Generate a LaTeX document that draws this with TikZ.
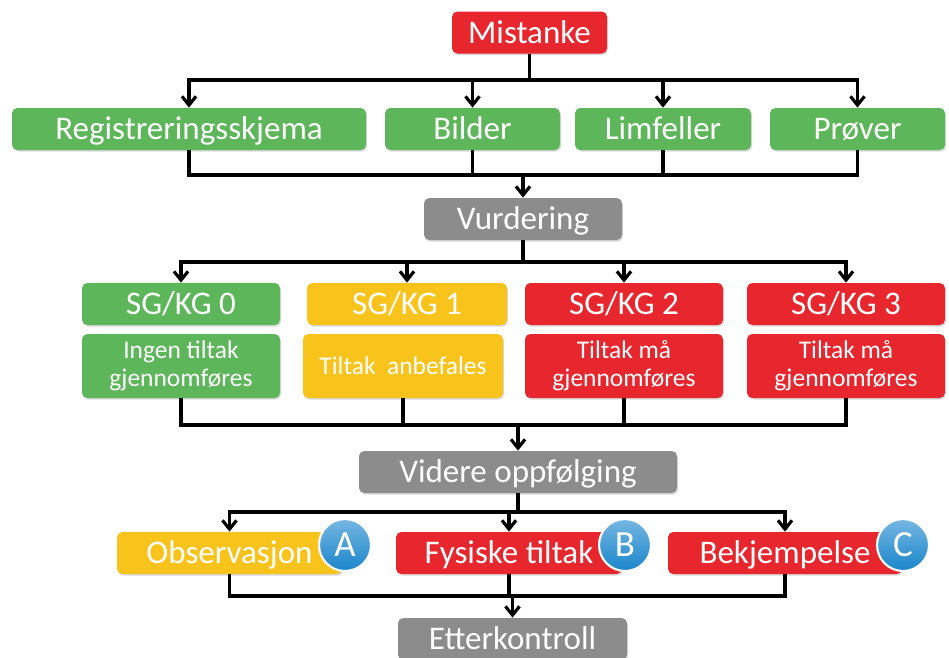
\documentclass[tikz,border=0pt]{standalone}
\usepackage{fontspec}
\setmainfont{Carlito}
\usetikzlibrary{arrows.meta,shadows}
\definecolor{rd}{HTML}{E8262D}
\definecolor{gr}{HTML}{5DB65A}
\definecolor{yl}{HTML}{F8C41C}
\definecolor{gy}{HTML}{8C8C8C}
\definecolor{bl}{HTML}{1A86CC}

\begin{document}
\begin{tikzpicture}[x=0.02cm, y=-0.02cm,
    >={Straight Barb[length=5pt,width=8pt]},
    link/.style={line width=1.8pt, draw=black},
    tile/.style={rounded corners=3pt, text=white, inner sep=0pt,
      drop shadow={shadow xshift=0.6pt, shadow yshift=-0.9pt, opacity=0.3}},
    box/.style={tile, minimum height=0.84cm, text height=14pt, text depth=2pt,
      font=\fontsize{18.8}{20}\selectfont},
    note/.style={tile, minimum height=1.28cm, align=center,
      font=\fontsize{14.5}{15.9}\selectfont},
    boxw/.style={minimum width=#1*0.02cm},
    badge/.style={circle, draw=white, line width=1.2pt, text=white,
      top color=bl!60!white, bottom color=bl, minimum size=1.04cm,
      inner sep=0pt, font=\fontsize{21}{21}\selectfont}]
  \useasboundingbox (0,0) rectangle (949,657);

  % Start
  \node[box, boxw=155, fill=rd] (mis) at (529.5,32.5) {Mistanke};

  % Registration
  \node[box, boxw=354, fill=gr] (reg) at (189,129) {Registreringsskjema};
  \node[box, boxw=175, fill=gr] (bil) at (472.5,129) {Bilder};
  \node[box, boxw=176, fill=gr] (lim) at (663,129) {Limfeller};
  \node[box, boxw=175, fill=gr] (pro) at (857.5,129) {Prøver};

  \node[box, boxw=198, fill=gy] (vur) at (523,219) {Vurdering};

  % Grades
  \node[box, boxw=198, fill=gr] (sg0) at (181,304) {SG/KG 0};
  \node[box, boxw=200, fill=yl] (sg1) at (407,304) {SG/KG 1};
  \node[box, boxw=198, fill=rd] (sg2) at (624,304) {SG/KG 2};
  \node[box, boxw=198, fill=rd] (sg3) at (846,304) {SG/KG 3};
  \node[note, boxw=198, fill=gr] (tk0) at (181,366) {Ingen tiltak\\gjennomføres};
  \node[note, boxw=200, fill=yl] (tk1) at (403,366) {Tiltak\ \ anbefales};
  \node[note, boxw=198, fill=rd] (tk2) at (624,366) {Tiltak må\\gjennomføres};
  \node[note, boxw=198, fill=rd] (tk3) at (846,366) {Tiltak må\\gjennomføres};

  \node[box, boxw=318, fill=gy] (vid) at (518,472) {Videre oppfølging};

  % Measures
  \node[box, boxw=225, fill=yl] (obs) at (229.5,553) {Observasjon};
  \node[box, boxw=226, fill=rd] (fys) at (509,553) {Fysiske tiltak};
  \node[box, boxw=234, fill=rd] (bek) at (785,553) {Bekjempelse};
  \node[badge] (bA) at (345,545) {A};
  \node[badge] (bB) at (625,545) {B};
  \node[badge] (bC) at (903,545) {C};

  \node[box, boxw=229, fill=gy] (etk) at (512.5,639) {Etterkontroll};

  % Connectors
  \coordinate (b1) at (mis |- 0,80);
  \draw[link] (mis) -- (b1);
  \foreach \n in {reg,bil,lim,pro} \draw[link,->] (b1) -| (\n);

  \coordinate (b2) at (vur |- 0,175);
  \foreach \n in {reg,bil,lim,pro} \draw[link] (\n) |- (b2);
  \draw[link,->] (b2) -- (vur);

  \coordinate (b3) at (vur |- 0,262);
  \draw[link] (vur) -- (b3);
  \foreach \n in {sg0,sg1,sg2,sg3} \draw[link,->] (b3) -| (\n);

  \coordinate (b4) at (vid |- 0,425);
  \foreach \n in {tk0,tk1,tk2,tk3} \draw[link] (\n) |- (b4);
  \draw[link,->] (b4) -- (vid);

  \coordinate (b5) at (vid |- 0,512);
  \draw[link] (vid) -- (b5);
  \foreach \n in {obs,fys,bek} \draw[link,->] (b5) -| (\n);

  \coordinate (b6) at (etk |- 0,596);
  \foreach \n in {obs,fys,bek} \draw[link] (\n) |- (b6);
  \draw[link,->] (b6) -- (etk);
\end{tikzpicture}
\end{document}
